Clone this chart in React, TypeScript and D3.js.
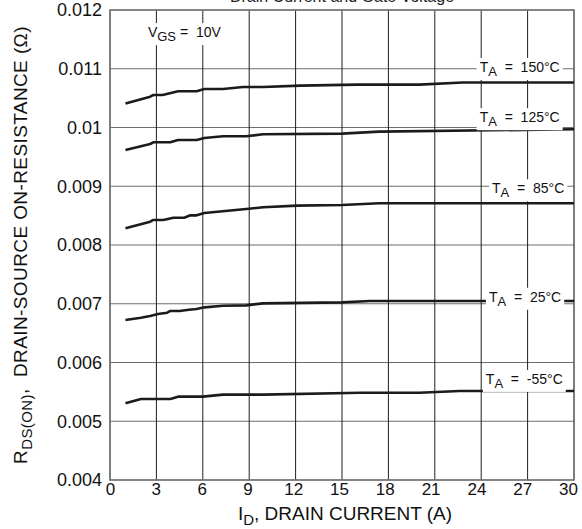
import React, { useEffect, useRef } from 'react';
import * as d3 from 'd3';

// drain current (A) vs on-resistance (ohm)
const t150: [number, number][] = [
  [1, 0.01041], [2.6, 0.010525], [2.8, 0.010553], [3.4, 0.010553], [4.4, 0.010616],
  [5.6, 0.010616], [6.1, 0.010655], [7.3, 0.010655], [8.6, 0.01069], [9.9, 0.01069],
  [12.3, 0.010712], [16, 0.01073], [20, 0.01073], [22.8, 0.010765], [30, 0.010765],
];
const t125: [number, number][] = [
  [1, 0.009617], [2.6, 0.009719], [2.8, 0.009748], [3.9, 0.009748], [4.4, 0.009787],
  [5.6, 0.009787], [6.1, 0.009821], [7.3, 0.00985], [8.8, 0.00985], [9.9, 0.009884],
  [15, 0.009895], [17.4, 0.009929], [30, 0.00997],
];
const t85: [number, number][] = [
  [1, 0.008284], [2.6, 0.008397], [2.8, 0.008426], [3.45, 0.008426], [4.1, 0.008465],
  [4.8, 0.008465], [5.2, 0.008505], [5.6, 0.008505], [6.1, 0.008545], [8.8, 0.008613],
  [9.9, 0.008642], [12.1, 0.00867], [15, 0.008681], [17.4, 0.00871], [30, 0.00871],
];
const t25: [number, number][] = [
  [1, 0.006723], [2, 0.006762], [2.6, 0.006791], [3.1, 0.006826], [3.7, 0.006848],
  [3.9, 0.006877], [4.5, 0.006877], [5.1, 0.006899], [5.6, 0.00691], [6.1, 0.006939],
  [7.3, 0.006967], [8.8, 0.006973], [9.9, 0.007007], [15, 0.007024], [16.8, 0.007047],
  [30, 0.007047],
];
const tm55: [number, number][] = [
  [1, 0.005306], [2, 0.00538], [3.9, 0.00538], [4.4, 0.005419], [6, 0.005419],
  [7.3, 0.005453], [9.9, 0.005453], [16.2, 0.005486], [20, 0.005486], [22.6, 0.005515],
  [30, 0.005515],
];

const seriesNames = ['T_A = 150°C', 'T_A = 125°C', 'T_A = 85°C', 'T_A = 25°C', 'T_A = -55°C'];
const xTicks = [0, 3, 6, 9, 12, 15, 18, 21, 24, 27, 30];
const yTicks = [0.004, 0.005, 0.006, 0.007, 0.008, 0.009, 0.01, 0.011, 0.012];

export default function App() {
  const svgRef = useRef<SVGSVGElement>(null);

  useEffect(() => {
    if (!svgRef.current) return;
    const svg = d3.select(svgRef.current);
    svg.selectAll('*').remove();

    const margin = { top: 10, right: 8, bottom: 49, left: 110 };
    const width = 582 - margin.left - margin.right;
    const height = 529 - margin.top - margin.bottom;
    const font = 'Liberation Sans, Arial, Helvetica, sans-serif';

    const x = d3.scaleLinear().domain([0, 30]).range([0, width]);
    const y = d3.scaleLinear().domain([0.004, 0.012]).range([height, 0]);

    // figure title, mostly cut off by the top edge as in the source
    svg.append('text')
      .attr('x', margin.left + width / 2)
      .attr('y', 2)
      .attr('text-anchor', 'middle')
      .style('font-family', font)
      .style('font-size', '16px')
      .style('fill', '#222')
      .text('Drain Current and Gate Voltage');

    const g = svg.append('g').attr('transform', `translate(${margin.left},${margin.top})`);

    // grid
    g.selectAll('.hgrid')
      .data(yTicks)
      .enter()
      .append('line')
      .attr('x1', 0)
      .attr('x2', width)
      .attr('y1', (d) => y(d))
      .attr('y2', (d) => y(d))
      .attr('stroke', '#6e6e6e')
      .attr('stroke-width', 1.2);

    g.selectAll('.vgrid')
      .data(xTicks)
      .enter()
      .append('line')
      .attr('x1', (d) => x(d))
      .attr('x2', (d) => x(d))
      .attr('y1', 0)
      .attr('y2', height)
      .attr('stroke', '#1e1e1e')
      .attr('stroke-width', 1);

    g.append('rect')
      .attr('width', width)
      .attr('height', height)
      .attr('fill', 'none')
      .attr('stroke', '#7a7a7a')
      .attr('stroke-width', 1.6);

    // axes (labels only)
    const xAxis = g.append('g')
      .attr('transform', `translate(0,${height})`)
      .call(d3.axisBottom(x).tickValues(xTicks).tickSize(0).tickPadding(3));
    const yAxis = g.append('g')
      .call(
        d3.axisLeft(y)
          .tickValues(yTicks)
          .tickSize(0)
          .tickPadding(8)
          .tickFormat((d) => String(+(+d).toFixed(3)))
      );
    [xAxis, yAxis].forEach((a) => {
      a.select('.domain').remove();
      a.selectAll('text')
        .style('font-family', font)
        .style('font-size', '18px')
        .style('fill', '#111');
    });
    // the printed labels drift slightly left of their grid lines
    xAxis.selectAll<SVGTextElement, number>('text')
      .style('font-size', '17px')
      .attr('dx', (d) => -d * 0.2);

    // curves
    const line = d3.line<[number, number]>()
      .x((d) => x(d[0]))
      .y((d) => y(d[1]));
    [t150, t125, t85, t25, tm55].forEach((s) => {
      g.append('path')
        .datum(s)
        .attr('d', line)
        .attr('fill', 'none')
        .attr('stroke', '#1b1b1b')
        .attr('stroke-width', 2.6)
        .attr('stroke-linejoin', 'round');
    });

    // curve labels: [I at text start, R at baseline]
    const labelAt: [number, number][] = [
      [23.9, 0.010945],
      [23.9, 0.01009],
      [24.7, 0.00888],
      [24.5, 0.007034],
      [24.3, 0.005635],
    ];
    const addLabel = (px: number, py: number, main: string, sub: string, rest: string, fs: number) => {
      const lg = g.append('g');
      const t = lg.append('text')
        .attr('x', px)
        .attr('y', py)
        .style('font-family', font)
        .style('font-size', `${fs}px`)
        .style('white-space', 'pre')
        .style('fill', '#111');
      t.append('tspan').text(main);
      t.append('tspan').attr('dy', 4).style('font-size', `${fs - 1}px`).text(sub);
      t.append('tspan').attr('dy', -4).text(rest);
      const bb = (t.node() as SVGTextElement).getBBox();
      lg.insert('rect', 'text')
        .attr('x', bb.x - 3)
        .attr('y', bb.y - 1)
        .attr('width', bb.width + 6)
        .attr('height', bb.height + 2)
        .attr('fill', '#fff');
    };
    seriesNames.forEach((name, i) => {
      const rest = ' ' + name.slice(3).replace('= ', '=  ');
      addLabel(x(labelAt[i][0]), y(labelAt[i][1]), 'T', 'A', rest, 14);
    });
    addLabel(x(2.45), y(0.011538), 'V', 'GS', ' =  10V', 14);

    // axis titles
    const xt = svg.append('text')
      .attr('x', margin.left + width / 2 + 3)
      .attr('y', 520)
      .attr('text-anchor', 'middle')
      .style('font-family', font)
      .style('font-size', '19px')
      .style('fill', '#111');
    xt.append('tspan').text('I');
    xt.append('tspan').attr('dy', 5).style('font-size', '15px').text('D');
    xt.append('tspan').attr('dy', -5).text(', DRAIN CURRENT (A)');

    const yt = svg.append('text')
      .attr('transform', `translate(27,${margin.top + height / 2}) rotate(-90)`)
      .attr('text-anchor', 'middle')
      .style('font-family', font)
      .style('font-size', '19px')
      .style('letter-spacing', '0.4px')
      .style('white-space', 'pre')
      .style('fill', '#111');
    yt.append('tspan').text('R');
    yt.append('tspan').attr('dy', 5).style('font-size', '15px').text('DS(ON)');
    yt.append('tspan').attr('dy', -5).text(',  DRAIN-SOURCE ON-RESISTANCE (Ω)');
  }, []);

  return (
    <svg
      ref={svgRef}
      width={582}
      height={529}
      style={{ position: 'absolute', left: 0, top: 0, background: '#fff' }}
    ></svg>
  );
}
